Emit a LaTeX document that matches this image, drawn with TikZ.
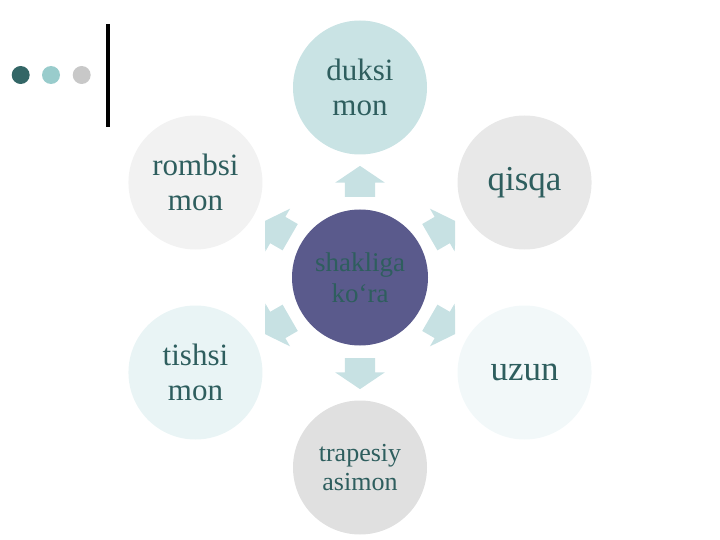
\documentclass[tikz,border=0pt]{standalone}
\usepackage{fontspec}
\setmainfont{Liberation Serif}
\usepackage{tikz}
\usetikzlibrary{shapes.arrows}
\definecolor{ink}{HTML}{2E5E5E}
\definecolor{hub}{HTML}{5A5A8C}
\definecolor{arrowfill}{HTML}{C7E1E3}
\definecolor{dotA}{HTML}{336666}
\definecolor{dotB}{HTML}{99CCCC}
\definecolor{dotC}{HTML}{C8C8C8}
\definecolor{petalA}{HTML}{C9E3E4}
\definecolor{petalB}{HTML}{E8E8E8}
\definecolor{petalC}{HTML}{F2F8F9}
\definecolor{petalD}{HTML}{E0E0E0}
\definecolor{petalE}{HTML}{E9F4F5}
\definecolor{petalF}{HTML}{F2F2F2}
\tikzset{
  petal/.style   ={circle, minimum size=134pt, inner sep=0pt, text=ink,
                   align=center},
  hubnode/.style ={petal, fill=hub, minimum size=136pt,
                   font=\fontsize{27}{31}\selectfont},
  % outward block arrows between the hub and the petals
  blockarr/.style={single arrow, fill=arrowfill, draw=none,
                   minimum height=31pt, inner xsep=0pt, inner ysep=15pt,
                   single arrow head extend=9.5pt, single arrow tip angle=112},
  dot/.style     ={circle, minimum size=18pt, inner sep=0pt},
}
% name/angle/colour/size/skip/text
\def\petallist{duksi/90/petalA/31/35/{duksi\\mon}, qisqa/30/petalB/35/38/qisqa,
  uzun/-30/petalC/35/38/uzun, trap/-90/petalD/26/29/{trapesiy\\asimon},
  tishsi/-150/petalE/31/35/{tishsi\\mon}, rombsi/150/petalF/31/35/{rombsi\\mon}}

\begin{document}
\begin{tikzpicture}[x=1pt,y=1pt]
\useasboundingbox (0,0) rectangle (720,-540);
\node[dot,fill=dotA] (d1) at (20.7,-75) {};
\node[dot,fill=dotB] (d2) at (51,-75) {};
\node[dot,fill=dotC] (d3) at (81.7,-75) {};
\draw[line width=4pt] (107.7,-24) -- (107.7,-127);
\begin{scope}[shift={(360,-277.5)}]
  \node[hubnode] (hub) at (0,0) {shakliga\\ko‘ra};
  \foreach \n/\a/\c/\fs/\sk/\t in \petallist
    {\node[petal,fill=\c,font=\fontsize{\fs}{\sk}\selectfont] (\n) at (\a:190) {\t};}
  \begin{scope}
    \clip (-95,-200) rectangle (95,200);
    \foreach \a in {90,30,-30,-90,-150,150}
      {\node[blockarr,rotate=\a] (arr\a) at (\a:91) {};}
  \end{scope}
\end{scope}
\end{tikzpicture}
\end{document}
